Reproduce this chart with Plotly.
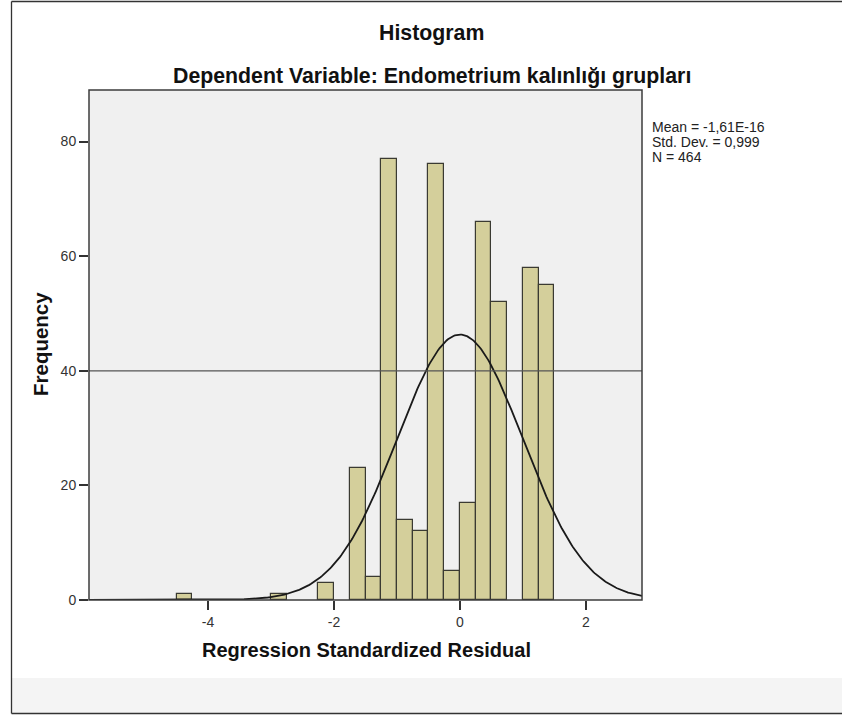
import numpy as np
import plotly.graph_objects as go

# ---- data ----
bin_starts = [-4.5, -3.0, -2.25, -1.75, -1.5, -1.25, -1.0, -0.75, -0.5, -0.25, 0.0, 0.25, 0.5, 1.0, 1.25]
counts = [1, 1, 3, 23, 4, 77, 14, 12, 76, 5, 17, 66, 52, 58, 55]
bin_width = 0.25
x_ticks = [-4, -2, 0, 2]
y_ticks = [0, 20, 40, 60, 80]
stat_mean = -1.61e-16
stat_sd = 0.999
stat_n = 464
stats_lines = ["Mean = -1,61E-16", "Std. Dev. = 0,999", "N = 464"]
ref_line_y = 40
title_text = "Histogram"
subtitle_text = "Dependent Variable: Endometrium kalınlığı grupları"
x_title = "Regression Standardized Residual"
y_title = "Frequency"

X_RANGE = [-5.89, 2.89]
Y_RANGE = [0, 89]

W, H = 842, 715
L, R, T, B = 89, 200, 90, 115
PW, PH = W - L - R, H - T - B


def px_x(px):
    return (px - L) / PW


def px_y(py):
    return (H - B - py) / PH


centers = [s + bin_width / 2 for s in bin_starts]

# normal curve implied by the displayed mean / std. dev. / N
xc = np.linspace(X_RANGE[0], X_RANGE[1], 400)
yc = stat_n * bin_width * np.exp(-0.5 * ((xc - stat_mean) / stat_sd) ** 2) / (stat_sd * np.sqrt(2 * np.pi))

fig = go.Figure()
fig.add_trace(go.Bar(
    x=centers, y=counts, width=bin_width,
    marker=dict(color="#d4cf9b", line=dict(color="#3a3a32", width=1.2)),
    hoverinfo="x+y", showlegend=False,
))
fig.add_trace(go.Scatter(
    x=xc, y=yc, mode="lines", line=dict(color="#1a1a1a", width=1.8),
    showlegend=False, hoverinfo="skip",
))

font_family = "Arial, Liberation Sans, sans-serif"

shapes = [
    # outer frame
    dict(type="rect", xref="paper", yref="paper",
         x0=px_x(12), x1=px_x(900), y0=px_y(678), y1=px_y(713),
         fillcolor="#f4f4f4", line=dict(width=0), layer="below"),
    dict(type="line", xref="paper", yref="paper",
         x0=px_x(11.5), x1=px_x(11.5), y0=px_y(1.5), y1=px_y(713.5),
         line=dict(color="#333333", width=1.3)),
    dict(type="line", xref="paper", yref="paper",
         x0=px_x(11.5), x1=px_x(900), y0=px_y(1.5), y1=px_y(1.5),
         line=dict(color="#333333", width=1.3)),
    dict(type="line", xref="paper", yref="paper",
         x0=px_x(11.5), x1=px_x(900), y0=px_y(713.5), y1=px_y(713.5),
         line=dict(color="#333333", width=1.5)),
    # reference line
    dict(type="line", xref="paper", yref="y", x0=0, x1=1, y0=ref_line_y, y1=ref_line_y,
         line=dict(color="#555555", width=1.2), layer="above"),
    # plot border
    dict(type="rect", xref="paper", yref="paper", x0=0, x1=1, y0=0, y1=1,
         line=dict(color="#3c3c3c", width=1.5), layer="above"),
]

annotations = [
    dict(text=f"<b>{title_text}</b>", xref="paper", yref="paper",
         x=px_x(431), y=px_y(33), xanchor="center", yanchor="middle", showarrow=False,
         font=dict(family=font_family, size=21.3, color="#111111")),
    dict(text=f"<b>{subtitle_text}</b>", xref="paper", yref="paper",
         x=px_x(432), y=px_y(76), xanchor="center", yanchor="middle", showarrow=False,
         font=dict(family=font_family, size=21.3, color="#111111")),
    dict(text=f"<b>{x_title}</b>", xref="paper", yref="paper",
         x=px_x(366), y=px_y(650), xanchor="center", yanchor="middle", showarrow=False,
         font=dict(family=font_family, size=20, color="#111111")),
    dict(text=f"<b>{y_title}</b>", xref="paper", yref="paper",
         x=px_x(40), y=px_y(344), xanchor="center", yanchor="middle", showarrow=False,
         textangle=-90, font=dict(family=font_family, size=20.5, color="#111111")),
]
for i, line in enumerate(stats_lines):
    annotations.append(dict(
        text=line, xref="paper", yref="paper",
        x=px_x(650), y=px_y(127 + 15 * i), xanchor="left", yanchor="middle", showarrow=False,
        font=dict(family=font_family, size=14, color="#222222")))

fig.update_layout(
    width=W, height=H,
    margin=dict(l=L, r=R, t=T, b=B, pad=0),
    paper_bgcolor="white", plot_bgcolor="#f0f0f0",
    font=dict(family=font_family, size=14, color="#333333"),
    bargap=0, showlegend=False,
    shapes=shapes, annotations=annotations,
    xaxis=dict(range=X_RANGE, tickvals=x_ticks, ticktext=[str(v) for v in x_ticks],
               ticks="outside", ticklen=9, tickwidth=1.5, tickcolor="#333333",
               showgrid=False, zeroline=False, showline=False,
               tickfont=dict(size=14, color="#333333")),
    yaxis=dict(range=Y_RANGE, tickvals=y_ticks, ticktext=[str(v) for v in y_ticks],
               ticks="outside", ticklen=9, tickwidth=1.5, tickcolor="#333333",
               showgrid=False, zeroline=False, showline=False,
               tickfont=dict(size=14, color="#333333")),
)

fig.write_html("out.html")
